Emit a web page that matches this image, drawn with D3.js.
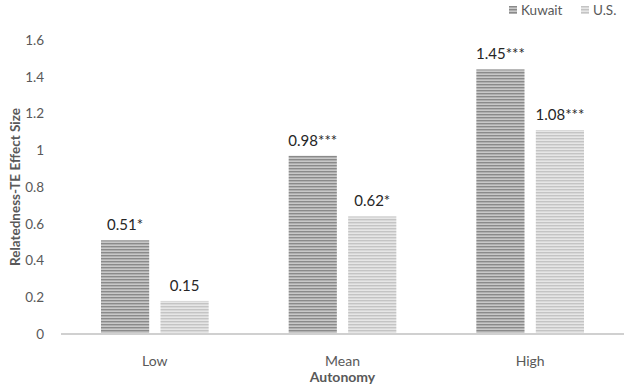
<!DOCTYPE html>
<html>
<head>
<meta charset="utf-8">
<script src="https://cdn.jsdelivr.net/npm/d3@7"></script>
<style>
  body { margin: 0; background: #fff; }
  svg { display: block; font-family: Lato, "Open Sans", sans-serif; }
</style>
</head>
<body>
<div id="chart"></div>
<script>
const categories = ["Low", "Mean", "High"];
const seriesNames = ["Kuwait", "U.S."];
const kuwaitValues = [0.51, 0.97, 1.44];
const usValues = [0.18, 0.64, 1.11];
const kuwaitLabels = ["0.51*", "0.98***", "1.45***"];
const usLabels = ["0.15", "0.62*", "1.08***"];
const yTicks = [0, 0.2, 0.4, 0.6, 0.8, 1, 1.2, 1.4, 1.6];

const width = 624, height = 384;
const margin = { top: 40, right: 0, bottom: 50, left: 61 };

const svg = d3.select("#chart").append("svg")
  .attr("width", width)
  .attr("height", height);

// stripe patterns for the bars
const defs = svg.append("defs");
function stripes(id, dark, light) {
  const p = defs.append("pattern")
    .attr("id", id)
    .attr("patternUnits", "userSpaceOnUse")
    .attr("width", 4).attr("height", 3);
  p.append("rect").attr("width", 4).attr("height", 3).attr("fill", light);
  p.append("rect").attr("width", 4).attr("height", 1.4).attr("fill", dark);
}
stripes("stripeK", "#8a8a8a", "#c8c8c8");
stripes("stripeU", "#c4c4c4", "#e6e6e6");
const fills = ["url(#stripeK)", "url(#stripeU)"];

const x0 = d3.scaleBand()
  .domain(categories)
  .range([margin.left, width - margin.right])
  .paddingInner(0)
  .paddingOuter(0);

const x1 = d3.scaleBand()
  .domain(seriesNames)
  .range([40, x0.bandwidth() - 40])
  .paddingInner(0.19);

const y = d3.scaleLinear()
  .domain([0, 1.6])
  .range([height - margin.bottom, margin.top]);

const rows = categories.map((c, i) => ({
  cat: c,
  vals: [
    { name: seriesNames[0], v: kuwaitValues[i], label: kuwaitLabels[i], s: 0 },
    { name: seriesNames[1], v: usValues[i], label: usLabels[i], s: 1 }
  ]
}));

const groups = svg.append("g").selectAll("g")
  .data(rows)
  .join("g")
  .attr("transform", d => `translate(${x0(d.cat)},0)`);

groups.selectAll("rect")
  .data(d => d.vals)
  .join("rect")
  .attr("x", d => x1(d.name))
  .attr("y", d => y(d.v))
  .attr("width", x1.bandwidth())
  .attr("height", d => y(0) - y(d.v))
  .attr("fill", d => fills[d.s]);

groups.selectAll("text")
  .data(d => d.vals)
  .join("text")
  .attr("x", d => x1(d.name) + x1.bandwidth() / 2)
  .attr("y", d => y(d.v) - 10)
  .attr("text-anchor", "middle")
  .attr("font-size", 15)
  .attr("fill", "#262626")
  .text(d => d.label);

// baseline
svg.append("line")
  .attr("x1", margin.left).attr("x2", width - margin.right)
  .attr("y1", y(0)).attr("y2", y(0))
  .attr("stroke", "#d0d0d0").attr("stroke-width", 2);

// y axis labels
const yAxis = svg.append("g")
  .attr("transform", `translate(${margin.left - 14},0)`)
  .call(d3.axisLeft(y).tickValues(yTicks).tickSize(0).tickFormat(d3.format("~g")));
yAxis.select(".domain").remove();
yAxis.selectAll("text")
  .attr("font-size", 13.5)
  .attr("font-family", "Lato, 'Open Sans', sans-serif")
  .attr("fill", "#595959");

// x axis labels
const xAxis = svg.append("g")
  .attr("transform", `translate(0,${y(0) + 19})`)
  .call(d3.axisBottom(x0).tickSize(0));
xAxis.select(".domain").remove();
xAxis.selectAll("text")
  .attr("font-size", 14)
  .attr("font-family", "Lato, 'Open Sans', sans-serif")
  .attr("fill", "#595959");

// axis titles
svg.append("text")
  .attr("x", x0(categories[1]) + x0.bandwidth() / 2)
  .attr("y", 382)
  .attr("text-anchor", "middle")
  .attr("font-size", 14)
  .attr("font-weight", "bold")
  .attr("fill", "#595959")
  .text("Autonomy");

svg.append("text")
  .attr("transform", `translate(20,${(y(0) + y(1.6)) / 2}) rotate(-90)`)
  .attr("text-anchor", "middle")
  .attr("font-size", 13.5)
  .attr("font-weight", "bold")
  .attr("fill", "#595959")
  .text("Relatedness-TE Effect Size");

// legend
const legend = svg.append("g").attr("transform", "translate(509,6)");
const lx = [0, 72];
seriesNames.forEach((n, i) => {
  const g = legend.append("g").attr("transform", `translate(${lx[i]},0)`);
  g.append("rect").attr("width", 8).attr("height", 8).attr("fill", fills[i]);
  g.append("text")
    .attr("x", 12).attr("y", 8.5)
    .attr("font-size", 13.5)
    .attr("fill", "#595959")
    .text(n);
});
</script>
</body>
</html>
